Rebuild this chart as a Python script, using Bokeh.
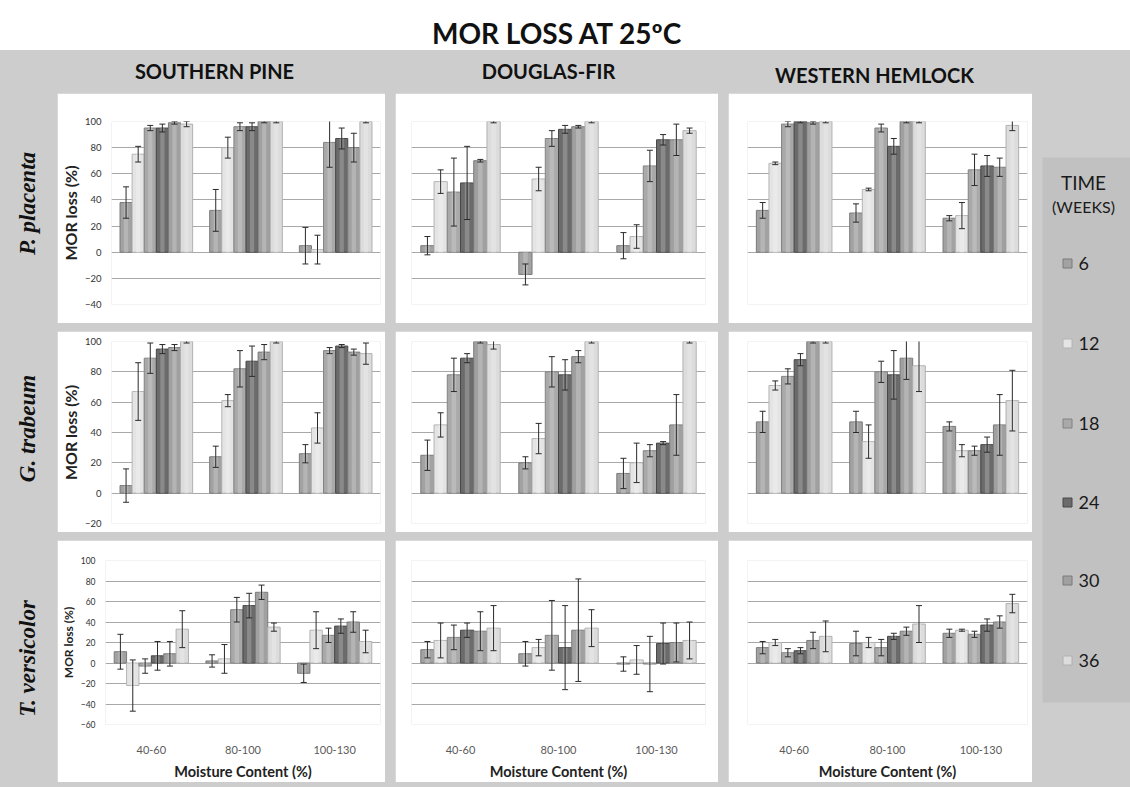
from bokeh.plotting import figure
from bokeh.layouts import row, column
from bokeh.models import Range1d, FactorRange, FixedTicker, ColumnDataSource
from bokeh.transform import dodge
from bokeh.core.properties import value
from bokeh.embed import file_html
from bokeh.resources import INLINE
import math

# ---------------- data ----------------
GROUPS = ["40-60", "80-100", "100-130"]
WEEKS = ["6", "12", "18", "24", "30", "36"]
SPECIES = ["SOUTHERN PINE", "DOUGLAS-FIR", "WESTERN HEMLOCK"]
FUNGI = ["P. placenta", "G. trabeum", "T. versicolor"]
TITLE = "MOR LOSS AT 25ºC"

# rows = weeks (6..36), cols = moisture groups
SP_PP_MEAN = [[38, 32, 5], [75, 80, 2], [95, 96, 84], [95, 96, 87], [99, 100, 80], [98, 100, 100]]
SP_PP_ERR = [[12, 16, 14], [6, 8, 11], [2, 3, 19], [3, 3, 8], [1, 1, 11], [2, 1, 1]]
DF_PP_MEAN = [[5, -17, 5], [54, 56, 12], [46, 87, 66], [53, 94, 86], [70, 96, 86], [100, 100, 93]]
DF_PP_ERR = [[7, 8, 10], [9, 9, 9], [26, 6, 12], [28, 3, 4], [1, 1, 12], [1, 1, 2]]
WH_PP_MEAN = [[32, 30, 26], [68, 48, 28], [98, 95, 63], [100, 81, 66], [99, 100, 65], [100, 100, 97]]
WH_PP_ERR = [[6, 7, 2], [1, 1, 10], [2, 3, 12], [1, 6, 8], [1, 1, 7], [1, 1, 4]]

SP_GT_MEAN = [[5, 24, 26], [67, 61, 43], [89, 82, 94], [95, 87, 97], [96, 93, 93], [100, 100, 92]]
SP_GT_ERR = [[11, 7, 6], [19, 4, 10], [10, 12, 2], [3, 10, 1], [2, 5, 2], [1, 1, 7]]
DF_GT_MEAN = [[25, 20, 13], [45, 36, 20], [78, 80, 28], [89, 78, 33], [100, 90, 45], [98, 100, 100]]
DF_GT_ERR = [[10, 4, 10], [8, 10, 13], [11, 10, 4], [3, 10, 1], [1, 4, 20], [3, 1, 1]]
WH_GT_MEAN = [[47, 47, 44], [71, 34, 28], [77, 80, 28], [88, 78, 32], [100, 89, 45], [100, 84, 61]]
WH_GT_ERR = [[7, 7, 3], [3, 11, 4], [5, 7, 3], [4, 16, 5], [1, 14, 20], [1, 17, 20]]

SP_TV_MEAN = [[11, 2, -10], [-22, 4, 32], [-3, 52, 27], [7, 56, 36], [9, 69, 40], [33, 35, 21]]
SP_TV_ERR = [[17, 6, 9], [25, 14, 18], [7, 12, 7], [14, 12, 7], [12, 7, 10], [18, 4, 11]]
DF_TV_MEAN = [[13, 9, -1], [22, 15, 3], [25, 27, -1], [32, 15, 19], [31, 32, 20], [34, 34, 22]]
DF_TV_ERR = [[8, 12, 7], [17, 8, 14], [12, 34, 27], [7, 41, 20], [19, 50, 19], [22, 18, 18]]
WH_TV_MEAN = [[15, 19, 29], [20, 20, 32], [10, 15, 28], [12, 26, 37], [22, 31, 40], [26, 38, 58]]
WH_TV_ERR = [[6, 12, 4], [3, 5, 1], [4, 8, 3], [3, 3, 6], [8, 4, 6], [15, 18, 9]]

# ---------------- style ----------------
FILLS = ["#a2a2a2", "#e4e4e4", "#a9a9a9", "#6b6b6b", "#a0a0a0", "#dcdcdc"]
EDGES = ["#7a7a7a", "#b4b4b4", "#828282", "#484848", "#7a7a7a", "#b0b0b0"]
GREY = "#cdcdcd"
LEG_GREY = "#c1c1c1"
FONT = "Lato"
BW = 0.135


def lighten(h, f):
    r, g, b = int(h[1:3], 16), int(h[3:5], 16), int(h[5:7], 16)
    r, g, b = [int(c + (255 - c) * f) for c in (r, g, b)]
    return "#%02x%02x%02x" % (r, g, b)


def make_panel(mean, err, width, height, yr, grid_ticks, left_axis, bottom_axis,
               bl, br, bt, bb, ylab_size, ytick_size):
    p = figure(width=width, height=height,
               x_range=FactorRange(*GROUPS), y_range=Range1d(*yr),
               output_backend="svg", toolbar_location=None,
               x_axis_location="below" if bottom_axis else None,
               y_axis_location="left" if left_axis else None,
               min_border_left=bl, min_border_right=br,
               min_border_top=bt, min_border_bottom=bb,
               background_fill_color="white", border_fill_color="white",
               outline_line_color=None)
    p.xgrid.visible = False
    p.ygrid.ticker = FixedTicker(ticks=grid_ticks)
    p.ygrid.grid_line_color = "#a8a8a8"
    p.ygrid.grid_line_width = 1
    if left_axis:
        ax = p.yaxis[0]
        ax.ticker = FixedTicker(ticks=grid_ticks)
        ax.axis_line_color = None
        ax.major_tick_line_color = None
        ax.minor_tick_line_color = None
        ax.major_label_text_font = FONT
        ax.major_label_text_font_size = ytick_size
        ax.major_label_text_color = "#333333"
        ax.major_label_standoff = 4
        ax.axis_label = "MOR loss (%)"
        ax.axis_label_text_font = FONT
        ax.axis_label_text_font_style = "bold"
        ax.axis_label_text_font_size = ylab_size
        ax.axis_label_text_color = "#222222"
        ax.axis_label_standoff = 2
    if bottom_axis:
        ax = p.xaxis[0]
        ax.axis_line_color = None
        ax.major_tick_line_color = None
        ax.minor_tick_line_color = None
        ax.major_label_text_font = FONT
        ax.major_label_text_font_size = "11px"
        ax.major_label_text_color = "#5a5a5a"
        ax.major_label_standoff = 15
        ax.axis_label = "Moisture Content (%)"
        ax.axis_label_text_font = FONT
        ax.axis_label_text_font_style = "bold"
        ax.axis_label_text_font_size = "14.5px"
        ax.axis_label_text_color = "#222222"
        ax.axis_label_standoff = 6
    for i, w in enumerate(WEEKS):
        m = mean[i]
        e = err[i]
        src = ColumnDataSource(dict(g=GROUPS, top=m,
                                    up=[a + b for a, b in zip(m, e)],
                                    lo=[a - b for a, b in zip(m, e)]))
        off = (i - 2.5) * BW
        xs = dodge("g", off, range=p.x_range)
        p.vbar(x=xs, top="top", bottom=0, width=BW, source=src,
               fill_color=FILLS[i], line_color=EDGES[i], line_width=1)
        p.vbar(x=xs, top="top", bottom=0, width=BW * 0.35, source=src,
               fill_color=lighten(FILLS[i], 0.3), fill_alpha=0.7, line_color=None)
        p.segment(x0=xs, y0="lo", x1=xs, y1="up", source=src,
                  line_color="#2a2a2a", line_width=1)
        p.scatter(x=xs, y="up", marker="dash", size=6, source=src,
                  line_color="#2a2a2a", line_width=1)
        p.scatter(x=xs, y="lo", marker="dash", size=6, source=src,
                  line_color="#2a2a2a", line_width=1)
    return p


def deco(width, height, bg=GREY):
    p = figure(width=width, height=height, x_range=Range1d(0, width),
               y_range=Range1d(height, 0), output_backend="svg",
               toolbar_location=None, x_axis_location=None, y_axis_location=None,
               min_border=0, outline_line_color=None,
               background_fill_color=bg, border_fill_color=bg)
    p.grid.visible = False
    return p


# widths/heights of the panel cells
COLW = [328, 323, 304]
ROWH = [230, 201, 242]
BL = [42, 16, 19]
BR = [5, 13, 5]
ROW_Y = [(-40, 100), (-20, 100), (-60, 100)]
BT = [28, 10, 20]
BB = [19, 9, 57]
YLAB = ["16px", "16px", "12px"]
YTICK = ["9.5px", "9.5px", "8.5px"]

MEANS = [[SP_PP_MEAN, DF_PP_MEAN, WH_PP_MEAN],
         [SP_GT_MEAN, DF_GT_MEAN, WH_GT_MEAN],
         [SP_TV_MEAN, DF_TV_MEAN, WH_TV_MEAN]]
ERRS = [[SP_PP_ERR, DF_PP_ERR, WH_PP_ERR],
        [SP_GT_ERR, DF_GT_ERR, WH_GT_ERR],
        [SP_TV_ERR, DF_TV_ERR, WH_TV_ERR]]
GRIDS = [[list(range(-40, 101, 20)), list(range(-40, 101, 20)), list(range(0, 101, 20))],
         [list(range(-20, 101, 20)), list(range(0, 101, 20)), list(range(0, 101, 20))],
         [list(range(-60, 101, 20)), list(range(-40, 101, 20)), list(range(0, 101, 20))]]

rows = []
for r in range(3):
    cells = []
    for c in range(3):
        cells.append(make_panel(MEANS[r][c], ERRS[r][c], COLW[c], ROWH[r], ROW_Y[r],
                                GRIDS[r][c], c == 0, r == 2, BL[c], BR[c], BT[r], BB[r],
                                YLAB[r], YTICK[r]))
    rows.append(row(*cells, spacing=10, styles={"background-color": GREY}))
panel_grid = column(*rows, spacing=8, styles={"background-color": GREY})

# title
title_fig = deco(1130, 50, bg="white")
title_fig.text(x=[557], y=[32], text=[TITLE], text_align="center", text_baseline="middle",
               text_font=value(FONT), text_font_style="bold", text_font_size="28px",
               text_color="#111111")

# column headers
header = deco(1032, 43)
header.text(x=[214, 548, 874], y=[20, 20, 24], text=SPECIES, text_align="center",
            text_baseline="middle", text_font=value(FONT), text_font_style="bold",
            text_font_size="20px", text_color="#111111")

# row labels
rowlab = deco(57, 694)
rowlab.text(x=[27, 27, 27], y=[110, 335, 565], text=FUNGI, angle=math.pi / 2,
            text_align="center", text_baseline="middle",
            text_font=value("Liberation Serif"), text_font_style="bold italic",
            text_font_size="23px", text_color="#111111")

# legend
leg = deco(98, 737)
leg.quad(left=[10], right=[98], top=[107], bottom=[652], fill_color=LEG_GREY, line_color=None)
leg.text(x=[51, 51], y=[132, 156], text=["TIME", "(WEEKS)"], text_align="center",
         text_baseline="middle", text_font=value(FONT), text_font_size=["19px", "16px"],
         text_color="#1a1a1a")
leg_y = [213, 293, 373, 452, 530, 610]
leg.scatter(x=[35] * 6, y=leg_y, marker="square", size=9, fill_color=FILLS,
            line_color=EDGES)
leg.text(x=[46] * 6, y=leg_y, text=WEEKS, text_align="left", text_baseline="middle",
         text_font=value(FONT), text_font_size="18px", text_color="#1a1a1a")

left_block = column(header, row(rowlab, panel_grid, styles={"background-color": GREY}),
                    styles={"background-color": GREY})
layout = column(title_fig, row(left_block, leg, styles={"background-color": GREY}),
                styles={"background-color": "white"})

open("out.html", "w").write(file_html(layout, INLINE))
